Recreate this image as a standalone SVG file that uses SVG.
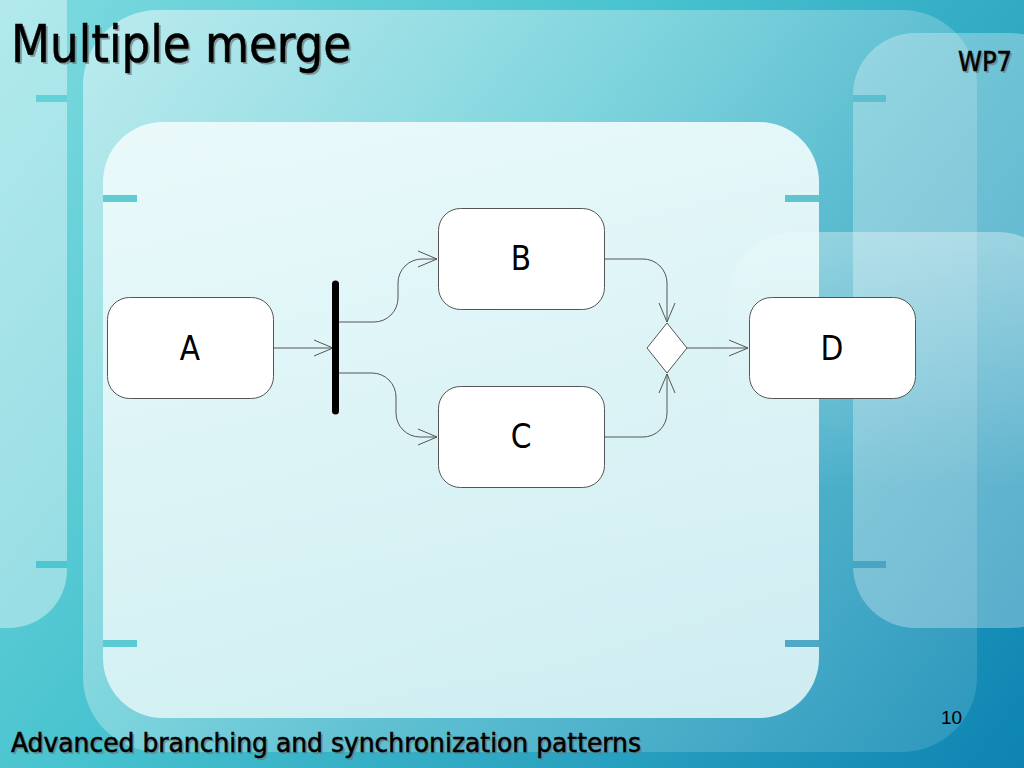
<svg xmlns="http://www.w3.org/2000/svg" width="1024" height="768" viewBox="0 0 1024 768">
<defs>
<linearGradient id="bg" gradientUnits="userSpaceOnUse" x1="0" y1="0" x2="1024" y2="768">
<stop offset="0" stop-color="#7fdbe0"/>
<stop offset="0.4" stop-color="#48c3cf"/>
<stop offset="0.72" stop-color="#2aa2c0"/>
<stop offset="1" stop-color="#0d84b2"/>
</linearGradient>
<linearGradient id="bigPanel" gradientUnits="userSpaceOnUse" x1="83" y1="10" x2="977" y2="752">
<stop offset="0" stop-color="#ffffff" stop-opacity="0.5"/>
<stop offset="0.6" stop-color="#ffffff" stop-opacity="0.2"/>
<stop offset="1" stop-color="#ffffff" stop-opacity="0.12"/>
</linearGradient>
<linearGradient id="panelC" x1="0" y1="0" x2="0" y2="1">
<stop offset="0" stop-color="#ffffff" stop-opacity="0.35"/>
<stop offset="0.65" stop-color="#ffffff" stop-opacity="0"/>
</linearGradient>
<linearGradient id="inner" x1="0" y1="0" x2="0" y2="1">
<stop offset="0" stop-color="#effbfc"/>
<stop offset="1" stop-color="#dbf3f5"/>
</linearGradient>
<marker id="arr" markerUnits="userSpaceOnUse" markerWidth="22" markerHeight="18" viewBox="0 0 22 18" refX="20" refY="9" orient="auto">
<path d="M1,1 L20,9 L1,17" fill="none" stroke="#555" stroke-width="1"/>
</marker>
<style>
.node{fill:#ffffff;stroke:#555555;stroke-width:1}
.lbl{font-family:"Liberation Sans Narrow","Arial Narrow","DejaVu Sans Condensed",sans-serif;font-size:33px;fill:#000;text-anchor:middle}
.conn{fill:none;stroke:#555555;stroke-width:1}
.hdr{font-family:"DejaVu Sans Condensed","DejaVu Sans",sans-serif}
.shadow{fill:#6a7a7c;opacity:0.7}
.ink{fill:#000;stroke:#000;stroke-width:0.5}
</style>
</defs>

<!-- background -->
<rect x="0" y="0" width="1024" height="768" fill="url(#bg)"/>
<path d="M0,0 H67 V570 A58,58 0 0 1 9,628 H0 Z" fill="#ffffff" opacity="0.4"/>
<rect x="36" y="95" width="31" height="7" fill="#62d2d8"/>
<rect x="36" y="561" width="31" height="7" fill="#4ec8d0"/>
<rect x="83" y="10" width="894" height="742" rx="75" fill="url(#bigPanel)"/>
<rect x="853" y="33" width="220" height="595" rx="62" fill="#ffffff" opacity="0.3"/>
<rect x="853" y="95" width="33" height="7" fill="#5bbfcf"/>
<rect x="853" y="561" width="33" height="7" fill="#4aa5c5"/>
<rect x="727" y="232" width="340" height="396" rx="70" fill="url(#panelC)"/>
<rect x="103" y="122" width="716" height="596" rx="60" fill="url(#inner)" opacity="0.92"/>
<rect x="103" y="195" width="34" height="7" fill="#62ccd4"/>
<rect x="785" y="195" width="34" height="7" fill="#5fc4d0"/>
<rect x="103" y="640" width="34" height="7" fill="#5ccad2"/>
<rect x="785" y="640" width="34" height="7" fill="#4ea8c6"/>

<!-- titles -->
<text class="hdr shadow" x="13" y="64" font-size="51" textLength="340" lengthAdjust="spacingAndGlyphs">Multiple merge</text>
<text class="hdr ink" x="11" y="62" font-size="51" textLength="340" lengthAdjust="spacingAndGlyphs">Multiple merge</text>
<text class="hdr shadow" x="960" y="73" font-size="27" textLength="54" lengthAdjust="spacingAndGlyphs">WP7</text>
<text class="hdr ink" x="958" y="71" font-size="27" textLength="54" lengthAdjust="spacingAndGlyphs">WP7</text>
<text class="hdr shadow" x="13" y="754" font-size="27" textLength="630" lengthAdjust="spacingAndGlyphs">Advanced branching and synchronization patterns</text>
<text class="hdr ink" x="11" y="752" font-size="27" textLength="630" lengthAdjust="spacingAndGlyphs">Advanced branching and synchronization patterns</text>
<text x="941" y="724" font-family="Liberation Sans, Arial, sans-serif" font-size="19" fill="#000">10</text>

<!-- connectors -->
<g id="connectors">
<path class="conn" d="M273,348 H333" marker-end="url(#arr)"/>
<path class="conn" d="M339,322 H374 A24,24 0 0 0 398,298 V283 A24,24 0 0 1 422,259 H437" marker-end="url(#arr)"/>
<path class="conn" d="M339,373 H372 A24,24 0 0 1 396,397 V413 A24,24 0 0 0 420,437 H437" marker-end="url(#arr)"/>
<path class="conn" d="M604,259 H643 A24,24 0 0 1 667,283 V322" marker-end="url(#arr)"/>
<path class="conn" d="M604,437 H643 A24,24 0 0 0 667,413 V374" marker-end="url(#arr)"/>
<path class="conn" d="M687,348 H748" marker-end="url(#arr)"/>
</g>

<!-- nodes -->
<g id="node-A">
<rect class="node" x="107.5" y="297.5" width="166" height="101" rx="22"/>
<text class="lbl" x="190" y="360">A</text>
</g>
<g id="node-fork">
<line x1="335.5" y1="284" x2="335.5" y2="411" stroke="#000" stroke-width="7" stroke-linecap="round"/>
</g>
<g id="node-B">
<rect class="node" x="438.5" y="208.5" width="166" height="101" rx="22"/>
<text class="lbl" x="521" y="270">B</text>
</g>
<g id="node-C">
<rect class="node" x="438.5" y="386.5" width="166" height="101" rx="22"/>
<text class="lbl" x="521" y="448">C</text>
</g>
<g id="node-merge">
<polygon class="node" points="667,323 687,348 667,373 647,348"/>
</g>
<g id="node-D">
<rect class="node" x="749.5" y="297.5" width="166" height="101" rx="22"/>
<text class="lbl" x="832" y="360">D</text>
</g>
</svg>
